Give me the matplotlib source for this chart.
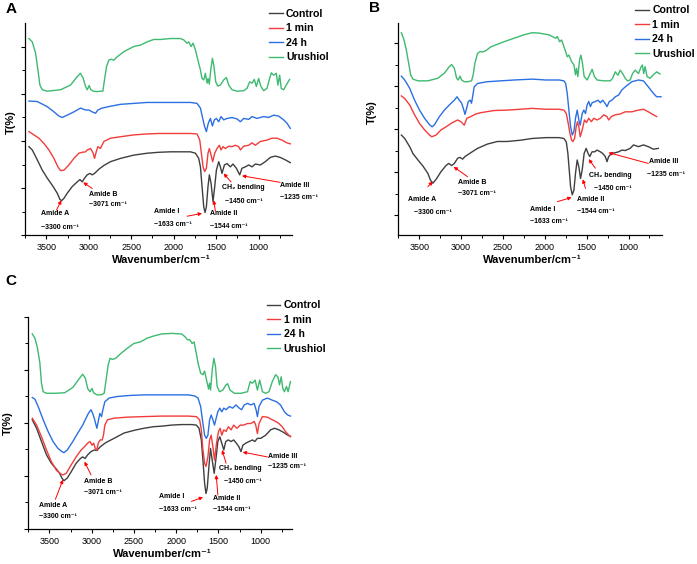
import numpy as np
import matplotlib.pyplot as plt

plt.rcParams['font.family'] = ['Liberation Sans', 'DejaVu Sans']

labels = ["Control", "1 min", "24 h", "Urushiol"]
colors = ["#3f3f3f", "#f23c3c", "#2b6fe3", "#3dba6f"]

# ---- panel A spectra (wavenumber, offset T) ----
a_ctrl = [(3704, 18.8), (3665, 18.1), (3606, 16.0), (3547, 13.8), (3488, 12.1), (3430, 10.6), (3371, 8.9),
          (3340, 7.6), (3320, 7.3), (3292, 7.8), (3253, 8.9), (3195, 10.3), (3136, 11.3), (3104, 11.8),
          (3077, 11.3), (3050, 12.1), (3018, 12.8), (2987, 13.1), (2960, 12.8), (2932, 13.1), (2881, 14.0),
          (2822, 14.8), (2744, 15.6), (2627, 16.3), (2470, 17.0), (2313, 17.4), (2176, 17.6), (2039, 17.7),
          (1882, 17.7), (1804, 17.7), (1745, 17.4), (1706, 16.3), (1686, 14.5), (1667, 10.3), (1647, 6.0),
          (1632, 4.8), (1616, 6.0), (1597, 10.3), (1581, 12.8), (1561, 11.0), (1538, 7.1), (1518, 10.3),
          (1498, 13.8), (1471, 15.6), (1451, 14.5), (1432, 13.1), (1404, 14.9), (1373, 15.2), (1334, 14.5),
          (1303, 15.1), (1263, 14.2), (1224, 12.8), (1197, 14.2), (1158, 14.5), (1118, 14.9), (1079, 14.5),
          (1040, 15.1), (981, 14.9), (923, 15.6), (864, 16.5), (805, 16.8), (746, 16.5), (688, 16.0), (629, 15.4)]
a_1min = [(3704, 22.0), (3645, 21.3), (3586, 20.6), (3528, 19.5), (3469, 18.1), (3410, 16.3), (3363, 14.5),
          (3332, 13.7), (3292, 13.8), (3234, 14.9), (3175, 16.3), (3116, 17.4), (3077, 17.6), (3038, 17.7),
          (3018, 18.1), (2979, 18.4), (2948, 17.4), (2932, 16.3), (2912, 17.7), (2893, 18.8), (2862, 18.4),
          (2850, 18.9), (2822, 19.9), (2744, 20.6), (2627, 20.9), (2470, 21.3), (2313, 21.5), (2176, 21.6),
          (2039, 21.6), (1804, 21.6), (1726, 21.5), (1694, 20.2), (1675, 17.4), (1655, 14.5), (1636, 13.5),
          (1616, 14.2), (1597, 17.4), (1581, 18.4), (1561, 17.0), (1542, 15.6), (1518, 17.4), (1491, 18.4),
          (1463, 19.1), (1444, 18.1), (1420, 18.8), (1393, 18.4), (1353, 18.9), (1314, 18.8), (1275, 19.1),
          (1236, 18.8), (1216, 18.1), (1177, 18.9), (1118, 19.1), (1079, 19.6), (1040, 19.1), (981, 19.9),
          (903, 20.2), (844, 20.6), (786, 20.6), (727, 20.2), (668, 19.6), (629, 19.4)]
a_24h = [(3704, 28.5), (3606, 28.4), (3488, 27.3), (3410, 26.2), (3351, 25.3), (3312, 25.0), (3253, 25.5),
         (3175, 26.2), (3097, 27.0), (3038, 26.6), (2999, 26.6), (2960, 26.2), (2920, 25.9), (2893, 26.6),
         (2842, 27.0), (2744, 27.4), (2627, 27.8), (2470, 28.0), (2313, 28.2), (2176, 28.2), (2039, 28.2),
         (1804, 28.2), (1726, 28.0), (1686, 27.0), (1659, 24.8), (1636, 23.0), (1616, 22.0), (1593, 23.8),
         (1569, 24.8), (1545, 23.2), (1522, 24.5), (1498, 24.8), (1471, 24.1), (1444, 25.2), (1412, 24.5),
         (1373, 24.8), (1314, 25.0), (1256, 24.7), (1216, 24.1), (1177, 24.8), (1118, 24.6), (1079, 25.2),
         (1021, 24.8), (942, 25.2), (883, 25.0), (825, 25.5), (766, 25.3), (707, 24.5), (668, 23.8), (629, 22.7)]
a_uru = [(3704, 41.8), (3665, 41.1), (3626, 38.7), (3598, 35.1), (3575, 31.9), (3547, 30.9), (3488, 30.6),
         (3332, 30.9), (3214, 31.9), (3136, 33.7), (3097, 34.4), (3065, 33.3), (3038, 31.6), (3018, 30.9),
         (2995, 31.8), (2979, 31.0), (2948, 30.6), (2901, 30.5), (2862, 30.6), (2834, 30.6), (2815, 33.0),
         (2791, 35.8), (2764, 37.2), (2736, 37.4), (2705, 37.2), (2666, 37.9), (2588, 39.0), (2470, 40.1),
         (2392, 40.4), (2313, 41.1), (2235, 41.6), (2156, 41.6), (2039, 41.8), (1921, 41.8), (1882, 41.5),
         (1843, 40.8), (1824, 41.1), (1796, 40.1), (1773, 40.8), (1745, 39.4), (1706, 36.5), (1686, 35.1),
         (1667, 33.3), (1647, 33.0), (1628, 34.4), (1608, 32.3), (1596, 33.3), (1581, 32.1), (1565, 35.1),
         (1545, 37.6), (1526, 35.8), (1506, 32.6), (1483, 31.7), (1451, 31.9), (1412, 33.0), (1381, 33.5),
         (1353, 31.9), (1314, 30.9), (1256, 30.6), (1177, 30.7), (1138, 31.2), (1107, 32.6), (1079, 32.3),
         (1052, 33.1), (1028, 31.6), (1001, 33.3), (974, 31.6), (942, 30.7), (903, 31.2), (872, 33.3),
         (852, 34.5), (825, 34.0), (793, 34.4), (774, 31.9), (754, 34.0), (735, 31.2), (707, 30.9),
         (676, 31.9), (637, 33.1)]

# ---- panel B spectra ----
b_ctrl = [(3713, 18.6), (3673, 17.8), (3614, 15.9), (3575, 14.3), (3515, 12.8), (3456, 11.4), (3397, 9.7),
          (3365, 8.1), (3337, 7.4), (3298, 8.3), (3239, 10.1), (3180, 11.5), (3148, 12.0), (3112, 11.5),
          (3080, 12.0), (3041, 13.2), (3013, 13.4), (2981, 13.0), (2953, 13.6), (2883, 14.5), (2803, 15.5),
          (2685, 16.5), (2566, 17.1), (2447, 17.1), (2289, 17.4), (2151, 17.8), (1989, 18.0), (1830, 18.0),
          (1771, 17.8), (1743, 17.0), (1724, 14.3), (1708, 10.5), (1692, 6.6), (1672, 4.7), (1652, 5.8),
          (1633, 9.7), (1613, 12.8), (1593, 11.2), (1573, 8.5), (1553, 10.5), (1530, 14.3), (1506, 15.5),
          (1482, 14.3), (1463, 13.6), (1435, 14.7), (1404, 14.7), (1376, 15.1), (1336, 14.7), (1308, 14.3),
          (1277, 13.6), (1257, 12.4), (1237, 13.6), (1205, 14.3), (1158, 14.5), (1118, 14.7), (1079, 15.1),
          (1039, 15.0), (980, 15.5), (940, 16.3), (881, 15.9), (822, 16.3), (763, 15.9), (703, 15.3), (644, 15.5)]
b_1min = [(3713, 27.7), (3673, 27.1), (3614, 25.6), (3555, 23.3), (3496, 21.3), (3436, 19.8), (3377, 18.6),
          (3349, 18.2), (3298, 18.6), (3239, 19.8), (3180, 20.5), (3120, 21.3), (3080, 21.7), (3041, 22.1),
          (3001, 21.7), (2962, 20.9), (2930, 22.5), (2883, 22.9), (2823, 23.5), (2764, 23.8), (2606, 24.3),
          (2447, 24.4), (2289, 24.6), (2151, 24.8), (1989, 24.6), (1830, 24.6), (1771, 24.4), (1743, 23.6),
          (1720, 21.3), (1700, 19.0), (1680, 17.4), (1664, 17.1), (1644, 17.8), (1625, 20.5), (1609, 21.7),
          (1593, 20.5), (1577, 18.2), (1553, 19.8), (1526, 22.1), (1502, 21.5), (1475, 22.5), (1443, 21.7),
          (1415, 22.5), (1376, 22.1), (1336, 22.5), (1296, 23.3), (1257, 22.9), (1237, 22.1), (1205, 22.9),
          (1158, 23.3), (1099, 23.5), (1039, 24.0), (960, 24.0), (881, 24.4), (822, 24.6), (763, 24.0),
          (703, 23.3), (664, 22.9)]
b_24h = [(3713, 32.3), (3673, 31.4), (3614, 29.5), (3555, 26.7), (3496, 24.4), (3436, 22.5), (3377, 21.0),
         (3345, 20.5), (3318, 21.0), (3258, 22.9), (3199, 24.4), (3140, 25.6), (3080, 26.7), (3049, 27.5),
         (3021, 26.7), (2993, 26.0), (2973, 24.8), (2953, 23.4), (2934, 24.8), (2914, 26.4), (2890, 26.7),
         (2875, 26.0), (2863, 27.4), (2843, 29.8), (2803, 30.6), (2685, 31.0), (2527, 31.2), (2368, 31.4),
         (2151, 31.6), (1989, 31.4), (1830, 31.4), (1771, 31.2), (1751, 30.6), (1732, 28.3), (1712, 24.4),
         (1692, 20.6), (1672, 18.6), (1652, 19.4), (1633, 22.5), (1613, 24.4), (1593, 22.1), (1577, 20.9),
         (1553, 23.6), (1534, 24.4), (1514, 23.6), (1494, 25.6), (1475, 26.4), (1455, 25.2), (1435, 26.1),
         (1395, 26.4), (1364, 26.7), (1336, 26.1), (1308, 26.7), (1277, 25.9), (1257, 25.2), (1229, 26.4),
         (1198, 26.7), (1158, 27.5), (1118, 27.9), (1079, 29.1), (1039, 29.8), (960, 31.0), (881, 31.4),
         (822, 31.2), (763, 29.8), (703, 28.3), (664, 27.5), (612, 27.5)]
b_uru = [(3713, 42.4), (3681, 40.7), (3654, 38.4), (3626, 35.3), (3602, 32.6), (3575, 31.6), (3515, 31.2),
         (3397, 31.2), (3278, 31.8), (3199, 33.0), (3140, 34.5), (3112, 35.0), (3080, 34.1), (3053, 31.8),
         (3033, 31.4), (3013, 32.3), (2993, 31.4), (2962, 31.0), (2922, 31.0), (2875, 31.2), (2855, 32.6),
         (2835, 35.3), (2803, 37.6), (2772, 38.0), (2744, 37.9), (2705, 38.2), (2645, 39.1), (2566, 39.7),
         (2487, 40.3), (2368, 41.1), (2250, 41.9), (2151, 42.4), (2068, 42.3), (1949, 41.9), (1910, 41.5),
         (1870, 41.1), (1850, 41.5), (1823, 40.3), (1799, 40.7), (1771, 39.1), (1751, 38.0), (1732, 36.8),
         (1712, 37.2), (1680, 35.7), (1652, 34.9), (1633, 32.6), (1621, 34.1), (1605, 32.2), (1585, 36.0),
         (1569, 37.2), (1550, 35.3), (1530, 32.2), (1494, 31.4), (1455, 33.0), (1435, 33.9), (1407, 32.2),
         (1376, 31.4), (1296, 31.2), (1217, 31.2), (1190, 31.8), (1158, 33.3), (1126, 32.5), (1099, 33.7),
         (1071, 32.9), (1039, 31.8), (1012, 31.2), (980, 31.4), (952, 32.9), (921, 33.7), (881, 32.9),
         (849, 34.5), (834, 34.9), (818, 32.9), (802, 34.5), (778, 32.2), (743, 31.8), (703, 32.6),
         (664, 33.3), (624, 32.8)]

# ---- panel C spectra ----
c_ctrl = [(3703, 20.6), (3652, 19.0), (3594, 16.5), (3535, 14.0), (3477, 12.4), (3418, 11.3), (3379, 10.5),
          (3352, 9.6), (3328, 9.1), (3289, 9.6), (3242, 10.8), (3184, 12.4), (3133, 13.3), (3106, 13.6),
          (3078, 13.3), (3047, 14.0), (3008, 14.6), (2969, 14.9), (2938, 14.8), (2899, 15.5), (2832, 16.3),
          (2735, 17.1), (2617, 18.1), (2500, 18.6), (2383, 19.0), (2266, 19.3), (2171, 19.4), (2054, 19.6),
          (1936, 19.7), (1819, 19.7), (1761, 19.6), (1729, 19.0), (1702, 16.8), (1683, 13.0), (1663, 8.6),
          (1647, 6.7), (1632, 7.7), (1612, 11.8), (1593, 15.2), (1573, 13.0), (1550, 10.5), (1526, 13.6),
          (1507, 16.5), (1483, 17.4), (1460, 16.2), (1436, 14.9), (1413, 16.5), (1382, 16.8), (1350, 16.5),
          (1319, 16.8), (1288, 16.2), (1257, 15.5), (1233, 14.6), (1210, 15.8), (1175, 16.2), (1136, 16.5),
          (1097, 16.8), (1069, 16.5), (1038, 17.1), (999, 17.1), (940, 17.7), (882, 18.7), (835, 19.0),
          (784, 18.7), (725, 18.2), (679, 17.7), (647, 17.5)]
c_1min = [(3703, 20.9), (3652, 19.6), (3594, 17.4), (3535, 14.9), (3477, 12.7), (3418, 11.1), (3367, 10.4),
          (3340, 10.2), (3301, 10.5), (3242, 12.1), (3184, 13.6), (3125, 14.9), (3086, 15.5), (3047, 16.2),
          (3020, 16.5), (2996, 15.8), (2977, 16.2), (2957, 15.2), (2938, 14.9), (2922, 16.2), (2899, 16.8),
          (2875, 16.8), (2860, 17.7), (2844, 19.6), (2813, 20.6), (2735, 20.9), (2578, 21.1), (2383, 21.2),
          (2168, 21.3), (2054, 21.3), (1858, 21.3), (1761, 21.2), (1722, 20.6), (1702, 18.7), (1683, 14.9),
          (1663, 12.4), (1647, 11.8), (1624, 13.6), (1604, 16.8), (1585, 17.7), (1565, 15.5), (1546, 13.0),
          (1522, 16.2), (1499, 18.4), (1479, 19.0), (1460, 17.7), (1436, 18.7), (1409, 18.4), (1382, 19.3),
          (1350, 18.7), (1319, 19.6), (1280, 19.0), (1241, 19.6), (1202, 19.6), (1155, 19.9), (1116, 19.9),
          (1077, 20.3), (1058, 19.6), (1038, 18.0), (1019, 19.9), (979, 21.2), (921, 21.1), (862, 20.6),
          (823, 20.3), (784, 19.9), (745, 19.3), (706, 18.4), (667, 17.7), (647, 17.4)]
c_24h = [(3703, 24.8), (3672, 24.5), (3633, 23.1), (3574, 20.6), (3516, 18.4), (3457, 16.5), (3399, 15.2),
         (3352, 14.6), (3328, 14.4), (3289, 14.9), (3223, 16.5), (3164, 18.1), (3106, 19.6), (3067, 20.9),
         (3039, 21.8), (3008, 22.5), (2988, 21.8), (2969, 20.9), (2953, 19.9), (2938, 19.0), (2922, 20.3),
         (2903, 21.8), (2883, 21.2), (2867, 22.5), (2844, 24.0), (2793, 24.7), (2695, 25.0), (2539, 25.2),
         (2383, 25.3), (2168, 25.3), (2054, 25.3), (1858, 25.3), (1780, 25.1), (1741, 24.7), (1710, 23.1),
         (1683, 19.9), (1663, 17.7), (1643, 17.1), (1624, 17.7), (1604, 20.6), (1585, 21.5), (1565, 20.6),
         (1546, 19.6), (1526, 20.9), (1507, 22.1), (1483, 22.8), (1460, 22.1), (1436, 22.8), (1409, 22.5),
         (1370, 23.1), (1331, 22.8), (1292, 23.4), (1253, 22.8), (1225, 22.5), (1194, 23.4), (1155, 23.7),
         (1116, 23.4), (1077, 23.7), (1054, 22.5), (1038, 21.2), (1019, 23.1), (979, 24.3), (921, 24.7),
         (862, 24.3), (812, 24.0), (765, 23.4), (718, 22.1), (679, 21.5), (647, 21.3)]
c_uru = [(3703, 36.8), (3672, 36.0), (3641, 34.1), (3613, 31.3), (3594, 27.5), (3574, 25.9), (3535, 25.6),
         (3438, 25.6), (3320, 25.7), (3223, 26.7), (3145, 28.4), (3106, 29.2), (3074, 28.4), (3047, 26.5),
         (3020, 25.9), (2996, 26.5), (2977, 25.7), (2938, 25.3), (2891, 25.3), (2852, 25.6), (2832, 27.8),
         (2805, 30.9), (2782, 32.2), (2754, 32.0), (2715, 32.2), (2656, 33.1), (2578, 34.1), (2500, 35.0),
         (2422, 35.3), (2344, 36.0), (2266, 36.4), (2171, 36.8), (2054, 36.9), (1936, 36.8), (1897, 36.3),
         (1866, 35.7), (1839, 35.7), (1811, 35.0), (1788, 35.3), (1761, 33.1), (1741, 31.3), (1710, 29.4),
         (1683, 29.1), (1663, 29.8), (1640, 28.1), (1616, 26.4), (1604, 27.5), (1593, 26.2), (1573, 30.0),
         (1554, 32.2), (1534, 30.6), (1515, 26.9), (1487, 25.9), (1448, 26.2), (1409, 27.2), (1390, 27.4),
         (1362, 26.2), (1311, 25.6), (1233, 25.6), (1155, 25.9), (1124, 27.8), (1097, 27.5), (1065, 28.1),
         (1038, 26.2), (1011, 28.1), (979, 25.9), (940, 25.6), (901, 25.9), (862, 27.8), (823, 29.1),
         (796, 28.7), (776, 27.2), (757, 28.7), (737, 26.5), (718, 25.9), (694, 26.9), (675, 25.9), (647, 27.8)]

# band labels: (line1, line2, text anchor, second-line anchor, arrow tail, arrow head)
notes_a = [("Amide A", "~3300 cm⁻¹", (3558, 4.5), (3558, 1.6), (3379, 5.3), (3323, 7.4)),
           ("Amide B", "~3071 cm⁻¹", (3000, 8.7), (3000, 6.4), (2959, 9.9), (3065, 11.2)),
           ("Amide I", "~1633 cm⁻¹", (2235, 5.1), (2235, 2.3), (1843, 4.0), (1667, 4.6)),
           ("Amide II", "~1544 cm⁻¹", (1577, 4.6), (1577, 1.9), (1510, 5.1), (1530, 7.4)),
           ("CH₂ bending", "~1450 cm⁻¹", (1432, 10.1), (1393, 7.1), (1326, 11.3), (1413, 13.1)),
           ("Amide III", "~1235 cm⁻¹", (747, 10.6), (747, 8.0), (747, 11.2), (1197, 12.6))]
notes_b = [("Amide A", "~3300 cm⁻¹", (3634, 3.5), (3558, 0.5), (3397, 6.6), (3338, 7.8)),
           ("Amide B", "~3071 cm⁻¹", (3033, 7.5), (3033, 4.9), (2922, 8.9), (3088, 11.2)),
           ("Amide I", "~1633 cm⁻¹", (2179, 1.2), (2179, -1.6), (1850, 3.1), (1680, 4.1)),
           ("Amide II", "~1544 cm⁻¹", (1613, 3.5), (1613, 0.8), (1514, 6.2), (1546, 8.3)),
           ("CH₂ bending", "~1450 cm⁻¹", (1467, 9.3), (1416, 6.2), (1396, 10.9), (1475, 13.0)),
           ("Amide III", "~1235 cm⁻¹", (755, 12.4), (779, 9.5), (763, 12.0), (1238, 14.5))]
notes_c = [("Amide A", "~3300 cm⁻¹", (3625, 4.5), (3625, 2.3), (3429, 5.6), (3340, 9.3)),
           ("Amide B", "~3071 cm⁻¹", (3094, 8.9), (3094, 6.9), (3007, 10.2), (3085, 12.7)),
           ("Amide I", "~1633 cm⁻¹", (2203, 6.1), (2203, 3.6), (1819, 5.2), (1682, 6.0)),
           ("Amide II", "~1544 cm⁻¹", (1565, 5.8), (1565, 3.6), (1506, 6.4), (1526, 10.2)),
           ("CH₂ bending", "~1450 cm⁻¹", (1488, 11.5), (1436, 8.9), (1409, 12.4), (1456, 14.9)),
           ("Amide III", "~1235 cm⁻¹", (913, 13.6), (913, 11.8), (920, 13.6), (1213, 14.5))]

panels = [
    dict(letter="A", rect=[0.0359, 0.5833, 0.3831, 0.3759], xlim=(3743, 608), ylim=(0, 45.1),
         series=[a_ctrl, a_1min, a_24h, a_uru], notes=notes_a, leg=(0.386, 0.9846),
         ylab=(-0.034, 0.533), let=(0.008, 0.996)),
    dict(letter="B", rect=[0.5714, 0.5833, 0.3779, 0.3759], xlim=(3729, 604), ylim=(-4.65, 44.65),
         series=[b_ctrl, b_1min, b_24h, b_uru], notes=notes_b, leg=(0.9115, 0.9904),
         ylab=(-0.081, 0.58), let=(0.530, 0.998)),
    dict(letter="C", rect=[0.0406, 0.0621, 0.3783, 0.3759], xlim=(3715, 629), ylim=(0, 40),
         series=[c_ctrl, c_1min, c_24h, c_uru], notes=notes_c, leg=(0.3826, 0.4674),
         ylab=(-0.058, 0.5), let=(0.008, 0.515)),
]

fig = plt.figure(figsize=(6.97, 5.64), dpi=100)

for p in panels:
    ax = fig.add_axes(p["rect"])
    handles = []
    for data, lab, col in zip(p["series"], labels, colors):
        wn, t = np.array(data).T
        h, = ax.plot(wn, t, color=col, lw=1.0, label=lab)
        handles.append(h)

    ax.set_xlim(*p["xlim"])
    ax.set_ylim(*p["ylim"])
    ax.set_xticks([3500, 3000, 2500, 2000, 1500, 1000])
    ax.set_xticks(np.arange(3750, 600, -250), minor=True)
    ax.set_yticks([0, 10, 20, 30, 40])
    ax.set_yticks([5, 15, 25, 35], minor=True)
    ax.set_yticklabels([])
    ax.spines[["top", "right"]].set_visible(False)
    for s in ("left", "bottom"):
        ax.spines[s].set_linewidth(0.9)
    ax.tick_params(which="major", direction="out", length=3, width=0.8, labelsize=6.5, pad=2.5)
    ax.tick_params(which="minor", direction="out", length=2, width=0.7)

    ax.set_xlabel("Wavenumber/cm⁻¹", fontsize=8, fontweight="bold")
    ax.xaxis.set_label_coords(0.51, -0.095)
    ax.set_ylabel("T(%)", fontsize=8, fontweight="bold")
    ax.yaxis.set_label_coords(*p["ylab"])

    for l1, l2, t1, t2, tail, head in p["notes"]:
        ax.text(t1[0], t1[1], l1, fontsize=5, fontweight="bold", ha="left", va="center", clip_on=False)
        ax.text(t2[0], t2[1], l2, fontsize=5, fontweight="bold", ha="left", va="center", clip_on=False)
        ax.annotate("", xy=head, xytext=tail, annotation_clip=False,
                    arrowprops=dict(arrowstyle="-|>", color="red", lw=0.7, mutation_scale=5,
                                    shrinkA=0, shrinkB=0))

    ax.legend(handles=handles, loc="upper left", bbox_to_anchor=p["leg"], bbox_transform=fig.transFigure,
              frameon=False, prop=dict(size=7.6, weight="bold"), handlelength=1.3, handletextpad=0.3,
              labelspacing=0.43, borderpad=0, borderaxespad=0)

    fig.text(p["let"][0], p["let"][1], p["letter"], fontsize=11, fontweight="bold", va="top", ha="left")

fig.savefig("out.png", dpi=100)
